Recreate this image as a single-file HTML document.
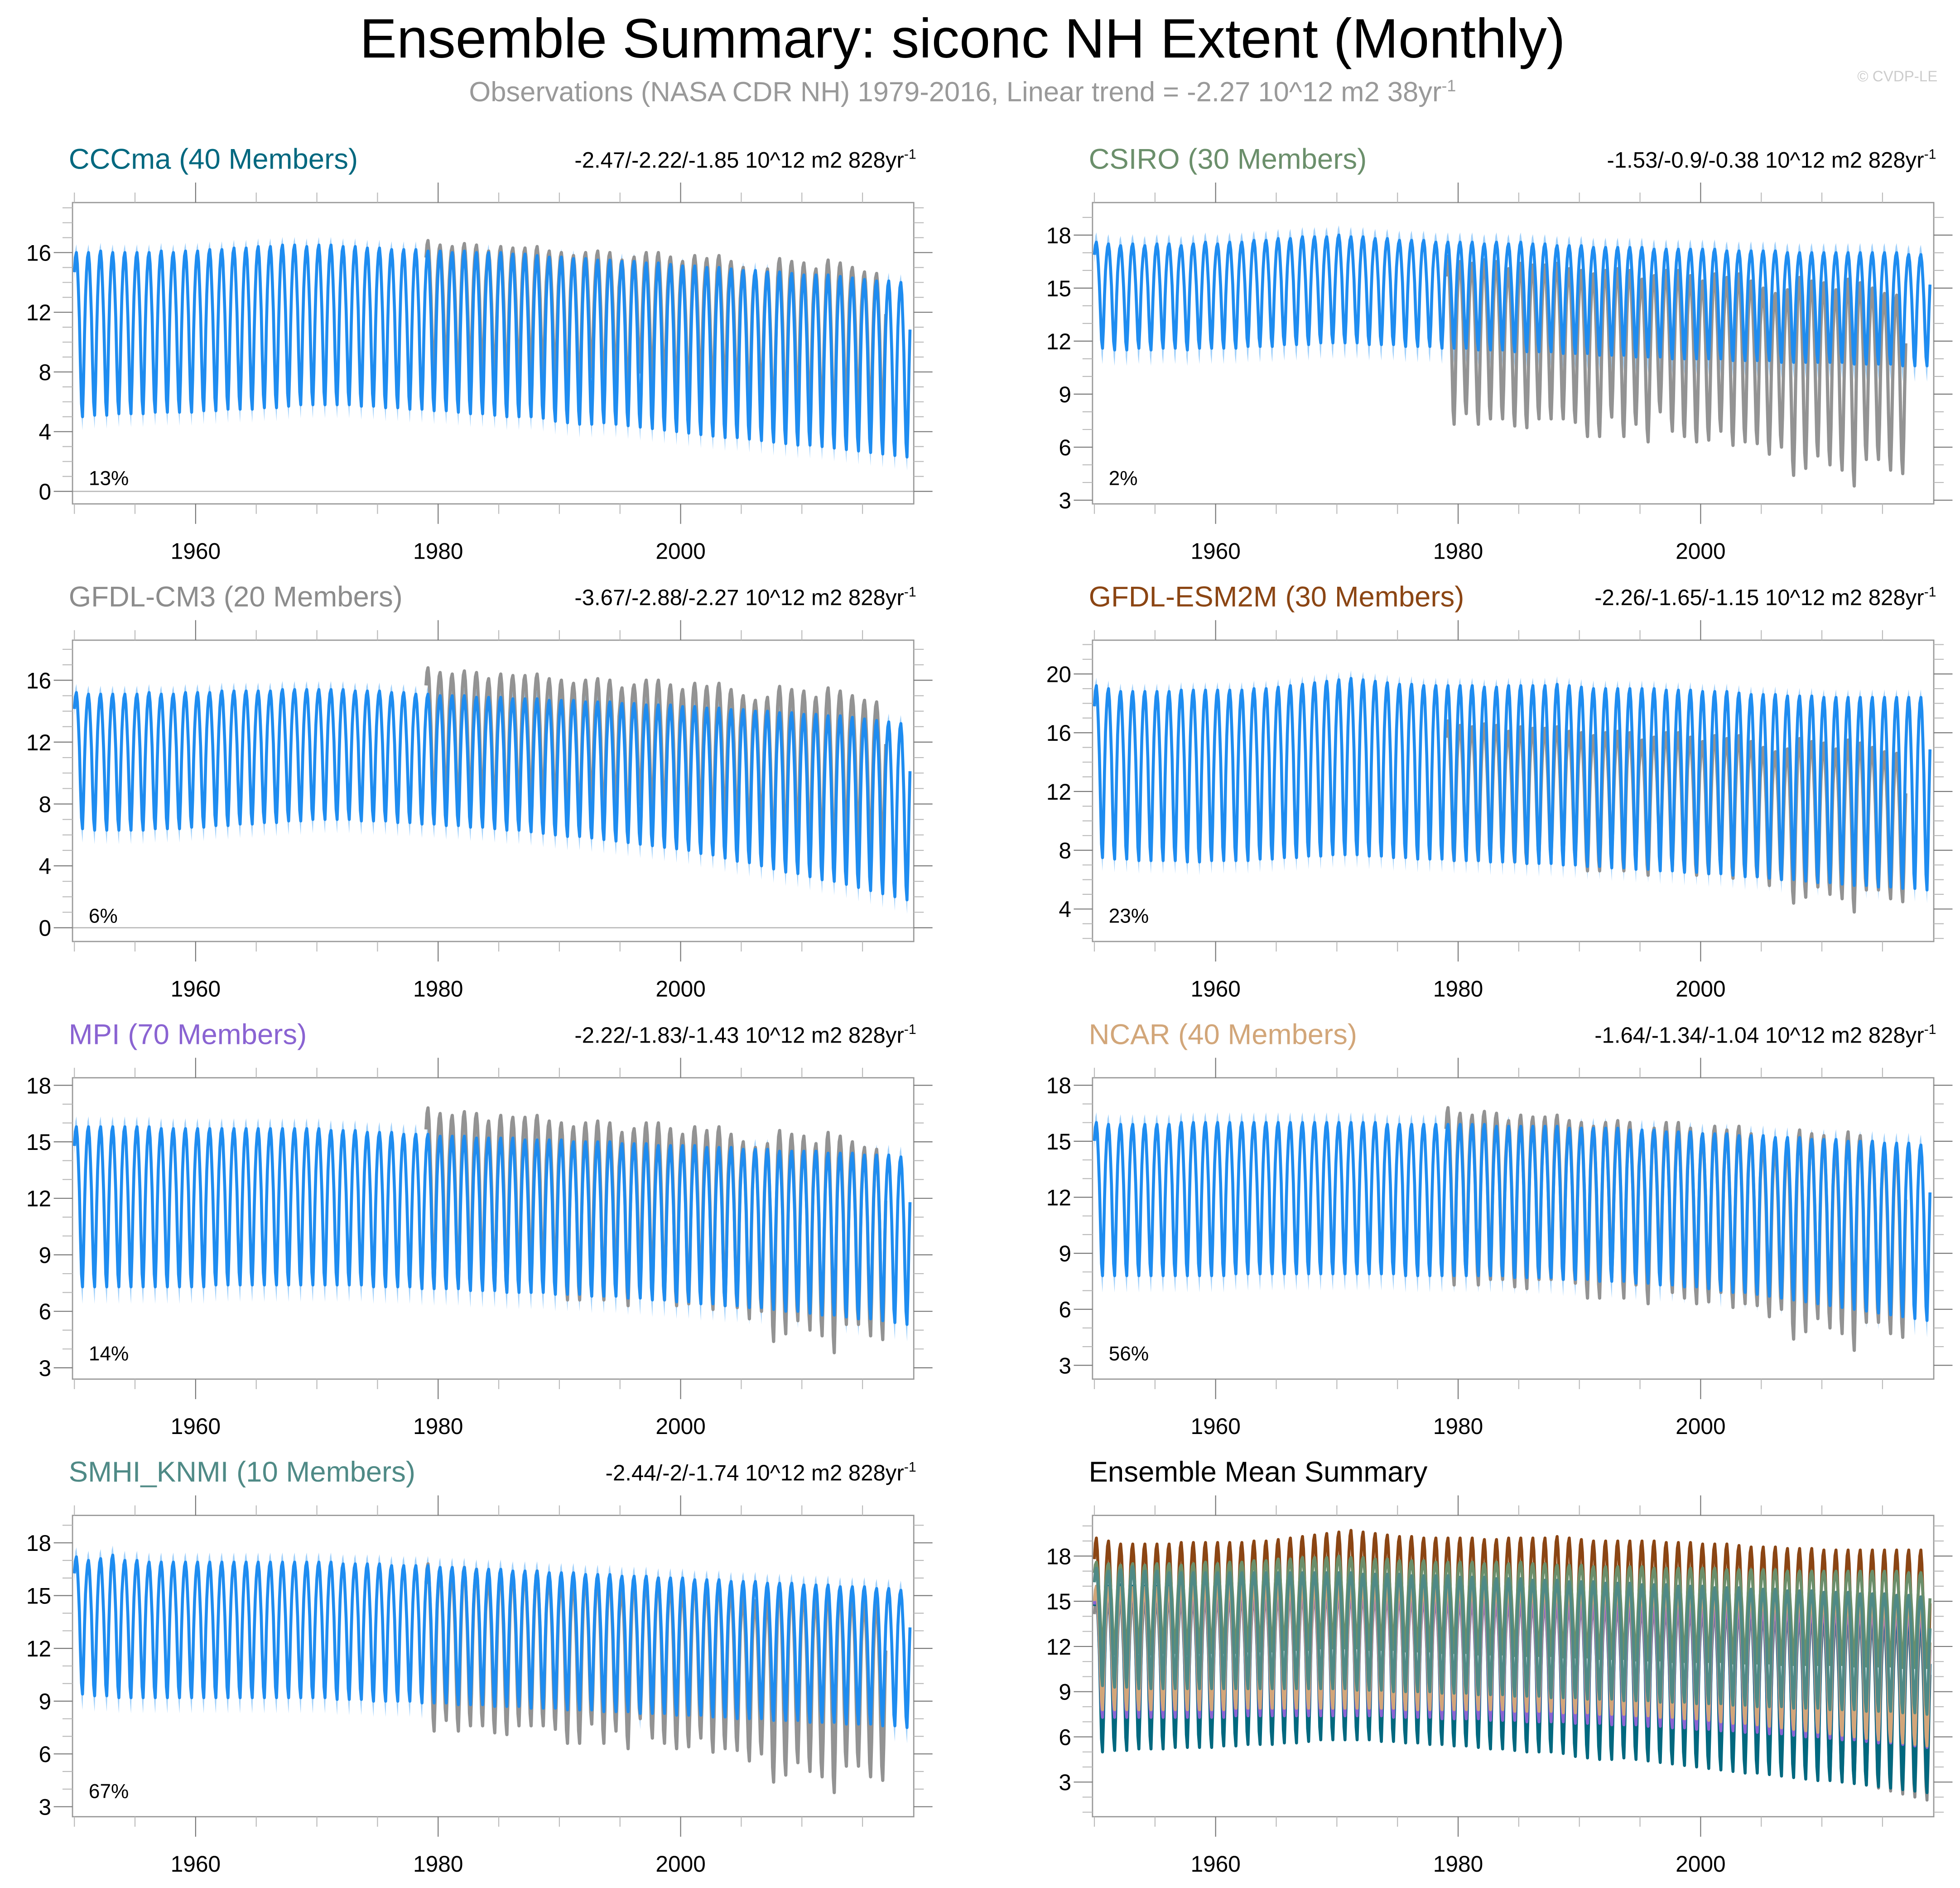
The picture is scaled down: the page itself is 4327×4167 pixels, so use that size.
<!DOCTYPE html>
<html><head><meta charset="utf-8"><style>
html,body{margin:0;padding:0;background:#fff}
svg{display:block}
text{font-family:"Liberation Sans",Arial,sans-serif}
</style></head><body>
<svg id="chart" width="4327" height="4167" viewBox="0 0 1568 1510" xmlns="http://www.w3.org/2000/svg">
<rect width="1568" height="1510" fill="#fff"/>
<text x="770" y="46" font-size="44.5" text-anchor="middle" fill="#000">Ensemble Summary: siconc NH Extent (Monthly)</text>
<text x="770" y="81" font-size="22.3" text-anchor="middle" fill="#999">Observations (NASA CDR NH) 1979-2016, Linear trend = -2.27 10^12 m2 38yr<tspan font-size="13" dy="-8">-1</tspan></text>
<text x="1550" y="65" font-size="12" text-anchor="end" fill="#ccc">© CVDP-LE</text>
<g id="plots"></g>
</svg>
<script>
// ---- data ----
const years = [];
for (let y = 1950; y <= 2018; y++) years.push(y);
const seasonShape = [0.88,0.97,1.0,0.93,0.78,0.6,0.33,0.08,0.0,0.2,0.5,0.73];
const obsYears = [];
for (let y = 1979; y <= 2016; y++) obsYears.push(y);
const obsMax = [16.8,16.5,16.4,16.6,16.5,16.1,16.4,16.3,16.3,16.4,16.1,16.0,15.8,16.0,16.1,16.0,15.5,15.7,16.0,16.0,15.7,15.4,15.8,15.6,15.8,15.4,15.0,14.7,14.9,15.6,15.4,15.3,14.9,15.5,15.3,15.0,14.7,14.6];
const obsMin = [7.3,7.9,7.3,7.6,7.6,7.2,7.1,7.6,7.6,7.6,7.4,6.6,6.6,7.7,6.6,7.3,6.3,8.0,6.9,6.6,6.3,6.4,6.9,6.1,6.3,6.2,5.6,6.0,4.4,4.8,5.5,5.0,4.7,3.8,5.3,5.3,4.7,4.5];

const cccmaMax = [16.0,16.0,16.1,16.0,16.0,16.0,16.0,16.1,16.0,16.1,16.1,16.2,16.2,16.3,16.3,16.4,16.4,16.5,16.5,16.4,16.5,16.5,16.4,16.4,16.3,16.3,16.2,16.2,16.2,16.1,16.1,16.0,16.1,16.0,16.0,16.0,15.9,15.9,15.8,15.7,15.7,15.6,15.6,15.5,15.5,15.4,15.4,15.3,15.3,15.2,15.1,15.1,15.0,15.0,14.9,14.8,14.8,14.7,14.7,14.6,14.5,14.5,14.5,14.4,14.3,14.2,14.1,14.1,14.0];
const cccmaMin = [5.0,5.1,5.1,5.2,5.2,5.2,5.3,5.3,5.3,5.3,5.4,5.4,5.5,5.5,5.5,5.6,5.6,5.7,5.8,5.8,5.8,5.8,5.8,5.7,5.7,5.6,5.6,5.5,5.5,5.4,5.4,5.3,5.2,5.2,5.1,5.0,5.0,5.0,4.9,4.7,4.6,4.5,4.5,4.6,4.5,4.4,4.3,4.2,4.1,4.0,3.9,3.8,3.7,3.6,3.6,3.5,3.4,3.3,3.2,3.1,3.1,3.0,2.9,2.8,2.7,2.6,2.5,2.4,2.3];
const csiroMax = [17.6,17.5,17.4,17.5,17.4,17.5,17.5,17.4,17.5,17.6,17.5,17.6,17.6,17.7,17.7,17.8,17.8,17.9,17.9,17.9,18.0,17.9,17.9,17.8,17.8,17.7,17.7,17.7,17.6,17.6,17.6,17.6,17.5,17.6,17.5,17.6,17.5,17.5,17.4,17.4,17.4,17.3,17.3,17.3,17.3,17.3,17.2,17.2,17.2,17.2,17.2,17.2,17.1,17.1,17.1,17.1,17.1,17.0,17.0,17.0,17.0,17.0,17.0,17.0,17.0,17.0,17.0,16.9,16.9];
const csiroMin = [11.6,11.5,11.5,11.6,11.5,11.6,11.6,11.5,11.6,11.6,11.6,11.6,11.7,11.7,11.7,11.8,11.8,11.8,11.9,11.9,11.9,11.9,11.8,11.8,11.8,11.7,11.7,11.7,11.6,11.6,11.6,11.5,11.5,11.5,11.4,11.4,11.4,11.4,11.3,11.3,11.3,11.2,11.2,11.2,11.1,11.1,11.1,11.0,11.0,11.0,11.0,11.0,10.9,10.9,10.9,10.9,10.8,10.8,10.8,10.8,10.8,10.8,10.7,10.7,10.7,10.7,10.6,10.6,10.6];
const cm3Max = [15.2,15.1,15.1,15.1,15.1,15.1,15.2,15.1,15.1,15.2,15.2,15.2,15.3,15.3,15.3,15.3,15.3,15.4,15.4,15.4,15.4,15.4,15.4,15.3,15.3,15.3,15.2,15.2,15.1,15.1,15.0,15.0,15.0,14.9,14.9,14.9,14.8,14.8,14.8,14.7,14.7,14.7,14.6,14.6,14.6,14.5,14.5,14.4,14.4,14.4,14.3,14.3,14.2,14.2,14.1,14.1,14.0,14.0,13.9,13.9,13.8,13.8,13.7,13.7,13.6,13.5,13.4,13.3,13.2];
const cm3Min = [6.4,6.3,6.3,6.3,6.3,6.3,6.4,6.4,6.4,6.5,6.5,6.6,6.6,6.7,6.7,6.8,6.8,6.9,6.9,7.0,7.0,7.0,7.0,6.9,6.9,6.9,6.8,6.8,6.7,6.7,6.6,6.6,6.5,6.5,6.4,6.3,6.3,6.2,6.1,6.0,5.9,5.9,5.8,5.7,5.6,5.5,5.4,5.3,5.2,5.1,5.0,4.8,4.7,4.5,4.3,4.2,4.0,3.8,3.6,3.5,3.3,3.1,3.0,2.8,2.6,2.4,2.2,2.0,1.8];
const esmMax = [19.2,19.0,18.8,18.8,18.8,18.8,18.8,18.9,18.9,18.9,18.9,18.9,18.9,19.0,19.0,19.1,19.2,19.3,19.4,19.5,19.6,19.7,19.6,19.5,19.4,19.3,19.3,19.2,19.2,19.2,19.2,19.2,19.1,19.1,19.2,19.2,19.2,19.2,19.3,19.2,19.1,19.0,19.0,19.0,19.0,19.0,19.0,18.9,18.9,18.9,18.8,18.8,18.8,18.7,18.6,18.6,18.6,18.5,18.5,18.5,18.4,18.4,18.4,18.4,18.4,18.4,18.4,18.4,18.4];
const esmMin = [7.5,7.4,7.4,7.3,7.3,7.3,7.3,7.2,7.2,7.3,7.3,7.3,7.3,7.4,7.4,7.5,7.5,7.6,7.6,7.7,7.7,7.7,7.6,7.6,7.5,7.5,7.4,7.4,7.4,7.3,7.3,7.3,7.2,7.2,7.2,7.1,7.1,7.1,7.0,7.0,6.9,6.9,6.8,6.8,6.7,6.7,6.6,6.6,6.5,6.5,6.4,6.4,6.3,6.2,6.2,6.1,6.0,6.0,5.9,5.8,5.8,5.7,5.6,5.6,5.5,5.5,5.4,5.4,5.3];
const mpiMax = [15.8,15.8,15.8,15.8,15.8,15.8,15.8,15.7,15.7,15.7,15.7,15.7,15.7,15.7,15.7,15.7,15.7,15.7,15.7,15.7,15.7,15.6,15.6,15.6,15.5,15.5,15.5,15.4,15.4,15.4,15.3,15.3,15.3,15.2,15.2,15.2,15.2,15.1,15.1,15.1,15.1,15.0,15.0,15.0,15.0,14.9,14.9,14.9,14.8,14.8,14.8,14.8,14.7,14.7,14.7,14.6,14.6,14.6,14.5,14.5,14.5,14.5,14.4,14.4,14.4,14.3,14.3,14.3,14.2];
const mpiMin = [7.3,7.3,7.3,7.3,7.3,7.3,7.3,7.3,7.3,7.3,7.3,7.4,7.4,7.4,7.4,7.4,7.4,7.4,7.4,7.4,7.4,7.4,7.4,7.4,7.3,7.3,7.3,7.3,7.2,7.2,7.2,7.2,7.1,7.1,7.1,7.0,7.0,7.0,7.0,6.9,6.9,6.9,6.8,6.8,6.8,6.7,6.7,6.6,6.6,6.5,6.5,6.4,6.4,6.3,6.3,6.2,6.2,6.1,6.0,6.0,5.9,5.8,5.8,5.7,5.6,5.6,5.5,5.4,5.3];
const ncarMax = [16.0,15.9,15.9,15.9,15.9,15.9,15.9,16.0,16.0,16.0,16.0,16.0,16.0,16.0,16.0,16.0,16.0,16.0,16.0,16.0,16.0,16.0,16.0,16.0,15.9,15.9,15.9,15.9,15.9,15.9,15.9,15.9,15.9,15.8,15.8,15.8,15.8,15.8,15.8,15.7,15.7,15.7,15.7,15.7,15.6,15.6,15.6,15.5,15.5,15.5,15.4,15.4,15.4,15.3,15.3,15.3,15.2,15.2,15.2,15.1,15.1,15.1,15.0,15.0,15.0,14.9,14.9,14.9,14.8];
const ncarMin = [7.8,7.8,7.8,7.8,7.8,7.8,7.8,7.8,7.8,7.8,7.8,7.9,7.9,7.9,7.9,7.9,7.9,7.9,7.9,7.9,7.9,7.9,7.9,7.9,7.9,7.8,7.8,7.8,7.8,7.8,7.8,7.8,7.8,7.8,7.7,7.7,7.7,7.7,7.6,7.6,7.6,7.5,7.5,7.5,7.4,7.4,7.3,7.3,7.2,7.2,7.1,7.0,6.9,6.9,6.8,6.7,6.6,6.5,6.4,6.3,6.2,6.1,6.0,5.9,5.8,5.7,5.6,5.5,5.4];
const smhiMax = [17.2,17.0,17.1,17.3,17.0,17.0,16.9,16.9,16.9,16.9,16.9,16.9,16.9,16.9,16.9,16.9,16.9,16.9,16.9,16.9,16.9,16.9,16.8,16.8,16.8,16.8,16.7,16.7,16.7,16.7,16.6,16.6,16.6,16.5,16.5,16.5,16.4,16.4,16.4,16.3,16.3,16.3,16.2,16.2,16.2,16.1,16.1,16.1,16.0,16.0,16.0,15.9,15.9,15.9,15.8,15.8,15.8,15.7,15.7,15.7,15.6,15.6,15.6,15.5,15.5,15.5,15.4,15.4,15.3];
const smhiMin = [9.4,9.3,9.3,9.2,9.2,9.2,9.2,9.2,9.2,9.2,9.2,9.2,9.2,9.2,9.2,9.2,9.2,9.2,9.2,9.2,9.2,9.1,9.1,9.1,9.0,9.0,9.0,9.0,8.9,8.9,8.9,8.8,8.8,8.8,8.7,8.7,8.7,8.6,8.6,8.6,8.5,8.5,8.5,8.4,8.4,8.4,8.3,8.3,8.3,8.2,8.2,8.2,8.1,8.1,8.0,8.0,8.0,7.9,7.9,7.9,7.8,7.8,7.8,7.7,7.7,7.7,7.6,7.6,7.5];

const modelNames = ["CCCma (40 Members)","CSIRO (30 Members)","GFDL-CM3 (20 Members)","GFDL-ESM2M (30 Members)","MPI (70 Members)","NCAR (40 Members)","SMHI_KNMI (10 Members)"];
const trendLabels = ["-2.47/-2.22/-1.85","-1.53/-0.9/-0.38","-3.67/-2.88/-2.27","-2.26/-1.65/-1.15","-2.22/-1.83/-1.43","-1.64/-1.34/-1.04","-2.44/-2/-1.74"];
const pctLabels = ["13%","2%","6%","23%","14%","56%","67%"];
const yTickSets = [[0,4,8,12,16],[3,6,9,12,15,18],[0,4,8,12,16],[4,8,12,16,20],[3,6,9,12,15,18],[3,6,9,12,15,18],[3,6,9,12,15,18],[3,6,9,12,15,18]];
const yRanges = [[-0.84,19.35],[2.79,19.84],[-0.89,18.59],[1.79,22.3],[2.4,18.4],[2.26,18.4],[2.43,19.56],[0.7,20.7]];
const xTickYears = [1960,1980,2000];
const modelMax = [cccmaMax,csiroMax,cm3Max,esmMax,mpiMax,ncarMax,smhiMax];
const modelMin = [cccmaMin,csiroMin,cm3Min,esmMin,mpiMin,ncarMin,smhiMin];
const titleColors = ["#00687f","#6b8f6b","#8c8c8c","#8b4513","#8a63d2","#d2a679","#4f8a86"];

// ---- drawing ----
const NS = "http://www.w3.org/2000/svg";
const root = document.getElementById('plots');
function el(tag, attrs, parent) {
  const e = document.createElementNS(NS, tag);
  for (const k in attrs) e.setAttribute(k, attrs[k]);
  (parent || root).appendChild(e);
  return e;
}
const FW = 673, FH = 241;
function monthly(maxA, minA, yrs) {
  const out = [];
  for (let i = 0; i < yrs.length; i++)
    for (let m = 0; m < 12; m++) out.push({t: yrs[i] + m / 12, v: minA[i] + (maxA[i] - minA[i]) * seasonShape[m]});
  return out;
}
function drawPanel(p) {
  const col = p % 2, row = Math.floor(p / 2);
  const fx = col ? 874 : 58, fy = 162 + row * 350;
  const [ymn, ymx] = yRanges[p];
  const xs = t => fx + 1.5 + (t - 1950) * 9.7;
  const ys = v => fy + FH - (v - ymn) / (ymx - ymn) * FH;
  const g = el('g', {});
  
  
  const isEns = p === 7;
  const title = el('text', {x: fx - 3, y: fy - 27, 'font-size': 23, fill: isEns ? '#000' : titleColors[p]}, g);
  title.textContent = isEns ? 'Ensemble Mean Summary' : modelNames[p];
  
  
  if (!isEns) {
    const tr = el('text', {x: fx + FW + 2, y: fy - 28, 'font-size': 17.8, 'text-anchor': 'end', fill: '#000'}, g);
    tr.innerHTML = trendLabels[p] + ' 10^12 m2 828yr<tspan font-size="11" dy="-7">-1</tspan>';
    
    
  }
  const cid = 'clip' + p;
  const cp = el('clipPath', {id: cid}, g);
  el('rect', {x: fx, y: fy, width: FW, height: FH}, cp);
  const plot = el('g', {'clip-path': 'url(#' + cid + ')'}, g);
  if (ymn < 0) el('line', {x1: fx, x2: fx + FW, y1: ys(0), y2: ys(0), stroke: '#bbb', 'stroke-width': 1}, plot);
  if (!isEns) {
    const d = monthly(modelMax[p], modelMin[p], years);
    let up = '', lo = '';
    d.forEach((q, i) => { const s = seasonShape[i % 12]; up += xs(q.t).toFixed(1) + ',' + ys(q.v + 0.35 + 0.2 * s).toFixed(1) + ' '; });
    for (let i = d.length - 1; i >= 0; i--) { const s = seasonShape[i % 12]; lo += xs(d[i].t).toFixed(1) + ',' + ys(d[i].v - 0.4 - 0.5 * (1 - s)).toFixed(1) + ' '; }
    const band = el('polygon', {points: up + lo, fill: '#9fd0fb', stroke: 'none'}, plot);
    
    
    const od = monthly(obsMax, obsMin, obsYears);
    const ol = el('polyline', {points: od.map(q => xs(q.t).toFixed(1) + ',' + ys(q.v).toFixed(1)).join(' '), fill: 'none', stroke: '#939393', 'stroke-width': 2.6, 'stroke-linejoin': 'round'}, plot);
    
    
    const ml = el('polyline', {points: d.map(q => xs(q.t).toFixed(1) + ',' + ys(q.v).toFixed(1)).join(' '), fill: 'none', stroke: '#1e8cf0', 'stroke-width': 2.4, 'stroke-linejoin': 'round'}, plot);
    
    
  } else {
    const order = [3, 2, 0, 4, 5, 1, 6];
    order.forEach(k => {
      const d = monthly(modelMax[k], modelMin[k], years);
      const l = el('polyline', {points: d.map(q => xs(q.t).toFixed(1) + ',' + ys(q.v).toFixed(1)).join(' '), fill: 'none', stroke: titleColors[k], 'stroke-width': 2.4, 'stroke-linejoin': 'round'}, plot);
      
      
    });
  }
  el('rect', {x: fx, y: fy, width: FW, height: FH, fill: 'none', stroke: '#999', 'stroke-width': 1}, g);
  for (let yr = 1950; yr <= 2015; yr += 5) {
    const x = xs(yr), major = xTickYears.includes(yr);
    const L = major ? 16 : 8;
    el('line', {x1: x, x2: x, y1: fy + FH, y2: fy + FH + L, stroke: major ? '#777' : '#bbb', 'stroke-width': 0.8}, g);
    el('line', {x1: x, x2: x, y1: fy, y2: fy - L, stroke: major ? '#777' : '#bbb', 'stroke-width': 0.8}, g);
  }
  xTickYears.forEach(yr => {
    const t = el('text', {x: xs(yr), y: fy + FH + 44, 'font-size': 18, 'text-anchor': 'middle', fill: '#000'}, g);
    t.textContent = yr;
    
    
  });
  const yt = yTickSets[p];
  for (let v = Math.ceil(ymn); v <= ymx; v++) {
    const major = yt.includes(v), L = major ? 15 : 8, y = ys(v);
    el('line', {x1: fx, x2: fx - L, y1: y, y2: y, stroke: major ? '#777' : '#bbb', 'stroke-width': 0.8}, g);
    el('line', {x1: fx + FW, x2: fx + FW + L, y1: y, y2: y, stroke: major ? '#777' : '#bbb', 'stroke-width': 0.8}, g);
  }
  yt.forEach(v => {
    const t = el('text', {x: fx - 17, y: ys(v) + 6.5, 'font-size': 18, 'text-anchor': 'end', fill: '#000'}, g);
    t.textContent = v;
    
    
  });
  if (!isEns) {
    const pc = el('text', {x: fx + 13, y: fy + 226, 'font-size': 16, fill: '#000'}, g);
    pc.textContent = pctLabels[p];
    
    
  }
}
for (let p = 0; p < 8; p++) drawPanel(p);
</script>
</body></html>
